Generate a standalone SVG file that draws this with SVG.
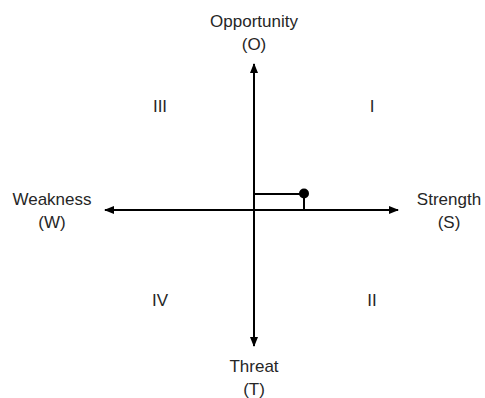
<svg xmlns="http://www.w3.org/2000/svg" width="485" height="398" viewBox="0 0 485 398">
<style>
text{font-family:"Liberation Sans",Arial,sans-serif;font-size:17px;fill:#262626;text-anchor:middle}
.ax{stroke:#000;stroke-width:2;fill:none}
</style>
<defs>
<marker id="ah" viewBox="0 0 10 8" refX="9" refY="4" markerWidth="10" markerHeight="8" markerUnits="userSpaceOnUse" orient="auto">
<path d="M0,0 L10,4 L0,8 Z" fill="#000"/>
</marker>
</defs>
<rect width="485" height="398" fill="#fff"/>
<g id="connectors">
<line class="ax" x1="254" y1="210" x2="254" y2="64" marker-end="url(#ah)"/>
<line class="ax" x1="254" y1="210" x2="254" y2="346" marker-end="url(#ah)"/>
<line class="ax" x1="254" y1="210" x2="105" y2="210" marker-end="url(#ah)"/>
<line class="ax" x1="254" y1="210" x2="398" y2="210" marker-end="url(#ah)"/>
<polyline class="ax" points="254,194 304,194 304,210"/>
<circle cx="304" cy="193.5" r="5" fill="#000"/>
</g>
<g id="opportunity"><text x="254" y="27">Opportunity</text><text x="254" y="50">(O)</text></g>
<g id="threat"><text x="254" y="372">Threat</text><text x="254" y="395">(T)</text></g>
<g id="weakness"><text x="52" y="205">Weakness</text><text x="52" y="228">(W)</text></g>
<g id="strength"><text x="449" y="205">Strength</text><text x="449" y="228">(S)</text></g>
<g id="q1"><text x="372" y="112">I</text></g>
<g id="q2"><text x="372" y="306">II</text></g>
<g id="q3"><text x="160" y="112">III</text></g>
<g id="q4"><text x="160" y="306">IV</text></g>
</svg>
